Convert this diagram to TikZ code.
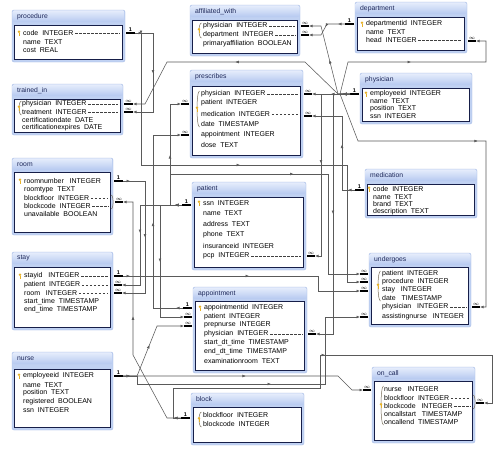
\documentclass[tikz,border=0pt]{standalone}
\usepackage{fontspec}
\setmainfont{Liberation Sans}
\usetikzlibrary{arrows.meta,decorations.markings,fit}
\definecolor{outerfill}{RGB}{192,209,242}
\definecolor{outerdraw}{RGB}{168,188,230}
\definecolor{titletop}{RGB}{230,237,252}
\definecolor{titlebot}{RGB}{182,201,240}
\definecolor{innerdraw}{RGB}{22,30,72}
\definecolor{titletext}{RGB}{30,40,90}
\definecolor{linecol}{RGB}{90,90,90}
\definecolor{keycol}{RGB}{232,178,40}
\definecolor{brcol}{RGB}{120,110,90}
\tikzset{
 outerbox/.style={draw=outerdraw, fill=outerfill, rounded corners=2pt, inner sep=0pt, line width=0.4pt},
 titlebar/.style={top color=titletop, bottom color=titlebot, rounded corners=2pt, inner sep=0pt, draw=none},
 innerbox/.style={draw=innerdraw, fill=white, line width=0.9pt, inner sep=0pt},
 ttl/.style={anchor=west, inner sep=0pt, font=\fontsize{6.8}{7}\selectfont, text=titletext},
 row/.style={anchor=west, inner sep=0pt, font=\fontsize{7}{7}\selectfont},
 dashln/.style={draw=black!75, dash pattern=on 2.5pt off 1.5pt, line width=0.4pt},
 stub/.style={line width=1.1pt, black},
 endlbl/.style={inner sep=0.5pt, font=\fontsize{5.5}{5.5}\selectfont\bfseries, above},
 conn/.style={draw=linecol, line width=0.55pt, -{Latex[length=3.5pt,width=2.8pt]},
   postaction={decorate}, decoration={markings,
     mark=at position 7pt with {\arrow{Latex[length=3.5pt,width=2.8pt]}},
     mark=at position 0.5 with {\arrow{Latex[length=3.5pt,width=2.8pt]}}}},
}
\newcommand{\erbox}[7]{%
 \node[outerbox, fit={(#2,#3) (#4,#5)}] (#1-o) {};
 \node[titlebar, fit={(#2+0.4,#3+0.4) (#4-0.4,#3+12)}] (#1-tb) {};
 \node[ttl] (#1-t) at (#2+5,#3+6.5) {#7};
 \node[innerbox, fit={(#2+2.5,#6) (#4-2.5,#5-2.5)}] (#1) {};
}
\newcommand{\rw}[4]{\node[row] (#1) at (#2,#3) {#4};}
\newcommand{\dl}[2]{\path (#2.east |- #1.east) coordinate (dlend); \draw[dashln] ([xshift=1.5pt]#1.east) -- ([xshift=-2.5pt]dlend);}
\newcommand{\pk}[2]{\fill[keycol] ({#1},{#2-1.3}) circle (1.4pt); \draw[keycol,line width=0.8pt] ({#1},{#2-0.2}) -- ({#1},{#2+2.6});}
\newcommand{\cpk}[3]{\draw[brcol,line width=0.5pt] ({#1+2.5},{#2-3}) .. controls ({#1-0.8},{#2-3}) and ({#1-0.8},{#3+3}) .. ({#1+2.5},{#3+3}); \pk{#1}{(#2+#3)/2}}
\newcommand{\rbr}[3]{\draw[brcol,line width=0.5pt] ({#1},{#2-3}) .. controls ({#1+2.8},{#2-3}) and ({#1+2.8},{#3+3}) .. ({#1},{#3+3});}
\newcommand{\oneend}[4]{\draw[stub] (#1,#3) -- node[endlbl]{1} (#2,#3); \coordinate (#4) at (#2,#3);}
\newcommand{\manyend}[4]{\draw[stub] (#1,#3) -- node[endlbl]{$\infty$} (#2,#3); \coordinate (#4) at (#2,#3);}
\begin{document}
\begin{tikzpicture}[x=1pt,y=-1pt]
\fill[white] (0,0) rectangle (503,450);
\useasboundingbox (0,0) rectangle (503,450);

% ---------- procedure
\erbox{proc}{12}{10}{125}{62}{25}{procedure}
\rw{proc-code}{23}{33}{code\ \ INTEGER}\pk{19}{33}
\rw{proc-name}{23}{42}{name\ \ TEXT}
\rw{proc-cost}{23}{50}{cost\ \ REAL}
\dl{proc-code}{proc}
\oneend{126}{135}{33}{oProc}

% ---------- trained_in
\erbox{trin}{12}{84}{123}{135}{99}{trained\_in}
\rw{trin-phys}{22}{104}{physician\ \ INTEGER}
\rw{trin-treat}{22}{112}{treatment\ \ INTEGER}
\rw{trin-cd}{22}{120}{certificationdate\ \ DATE}
\rw{trin-ce}{22}{128}{certificationexpires\ \ DATE}
\cpk{19}{104}{112}
\dl{trin-phys}{trin}\dl{trin-treat}{trin}
\manyend{124}{133}{104}{mTrPhys}
\manyend{124}{133}{112}{mTrTreat}

% ---------- affiliated_with
\erbox{afw}{190}{5}{300}{56}{20}{affiliated\_with}
\rw{afw-phys}{203}{26}{physician\ \ INTEGER}
\rw{afw-dept}{203}{35}{department\ \ INTEGER}
\rw{afw-pa}{203}{44}{primaryaffiliation\ \ BOOLEAN}
\cpk{199}{26}{35}
\dl{afw-phys}{afw}\dl{afw-dept}{afw}
\manyend{301}{309}{26}{mAfPhys}
\manyend{301}{309}{35}{mAfDept}

% ---------- prescribes
\erbox{presc}{190}{70}{303}{158}{86}{prescribes}
\rw{presc-phys}{201}{94}{physician\ \ INTEGER}
\rw{presc-pat}{201}{103}{patient\ \ INTEGER}
\rw{presc-med}{201}{114}{medication\ \ INTEGER}
\rw{presc-date}{201}{124}{date\ \ TIMESTAMP}
\rw{presc-appt}{201}{135}{appointment\ \ INTEGER}
\rw{presc-dose}{201}{145}{dose\ \ TEXT}
\cpk{197}{94}{124}
\dl{presc-phys}{presc}\dl{presc-med}{presc}
\manyend{304}{312}{94}{mPrPhys}
\manyend{304}{312}{116}{mPrMed}
\manyend{189}{181}{104}{mPrPat}
\manyend{189}{181}{135}{mPrAppt}

% ---------- department
\erbox{dept}{355}{2}{467}{53}{17}{department}
\rw{dept-id}{366}{24}{departmentid\ \ INTEGER}\pk{362}{24}
\rw{dept-name}{366}{32}{name\ \ TEXT}
\rw{dept-head}{366}{40}{head\ \ INTEGER}
\dl{dept-head}{dept}
\oneend{354}{345}{24}{oDept}
\manyend{468}{476}{41}{mDeptHead}

% ---------- physician
\erbox{phys}{360}{73}{472}{124}{88}{physician}
\rw{phys-id}{370}{94}{employeeid\ \ INTEGER}\pk{366}{94}
\rw{phys-name}{370}{101}{name\ \ TEXT}
\rw{phys-pos}{370}{109}{position\ \ TEXT}
\rw{phys-ssn}{370}{116}{ssn\ \ INTEGER}
\oneend{359}{350}{94}{oPhys}

% ---------- room
\erbox{room}{12}{158}{113}{235}{172}{room}
\rw{room-num}{24}{181}{roomnumber\ \ \ INTEGER}\pk{20}{181}
\rw{room-type}{24}{190}{roomtype\ \ TEXT}
\rw{room-bf}{24}{198}{blockfloor\ \ INTEGER}
\rw{room-bc}{24}{206}{blockcode\ \ INTEGER}
\rw{room-un}{24}{214}{unavailable\ \ BOOLEAN}
\dl{room-bf}{room}\dl{room-bc}{room}
\rbr{111}{198}{206}
\oneend{114}{123}{181}{oRoom}
\manyend{115}{123}{202}{mRoomBlk}

% ---------- stay
\erbox{stay}{12}{252}{113}{330}{267}{stay}
\rw{stay-id}{24}{276}{stayid\ \ \ INTEGER}\pk{20}{276}
\rw{stay-pat}{24}{285}{patient\ \ INTEGER}
\rw{stay-room}{24}{293}{room\ \ \ INTEGER}
\rw{stay-st}{24}{302}{start\_time\ \ TIMESTAMP}
\rw{stay-et}{24}{310}{end\_time\ \ TIMESTAMP}
\dl{stay-id}{stay}\dl{stay-pat}{stay}\dl{stay-room}{stay}
\oneend{114}{123}{276}{oStay}
\manyend{114}{122}{285}{mStayPat}
\manyend{114}{122}{293}{mStayRoom}

% ---------- nurse
\erbox{nurse}{12}{352}{113}{430}{369}{nurse}
\rw{nurse-id}{23}{376}{employeeid\ \ INTEGER}\pk{19}{376}
\rw{nurse-name}{23}{385}{name\ \ TEXT}
\rw{nurse-pos}{23}{393}{position\ \ TEXT}
\rw{nurse-reg}{23}{402}{registered\ \ BOOLEAN}
\rw{nurse-ssn}{23}{410}{ssn\ \ INTEGER}
\oneend{114}{123}{376}{oNurse}

% ---------- patient
\erbox{pat}{192}{182}{306}{270}{197}{patient}
\rw{pat-ssn}{203}{203}{ssn\ \ INTEGER}\pk{199}{203}
\rw{pat-name}{203}{213}{name\ \ TEXT}
\rw{pat-addr}{203}{224}{address\ \ TEXT}
\rw{pat-phone}{203}{235}{phone\ \ TEXT}
\rw{pat-ins}{203}{246}{insuranceid\ \ INTEGER}
\rw{pat-pcp}{203}{256}{pcp\ \ INTEGER}
\dl{pat-pcp}{pat}
\oneend{191}{182}{205}{oPat}
\manyend{307}{315}{256}{mPatPcp}

% ---------- medication
\erbox{med}{365}{169}{477}{218}{184}{medication}
\rw{med-code}{373}{189}{code\ \ INTEGER}\pk{369}{189}
\rw{med-name}{373}{197}{name\ \ TEXT}
\rw{med-brand}{373}{204}{brand\ \ TEXT}
\rw{med-desc}{373}{212}{description\ \ TEXT}
\oneend{364}{355}{190}{oMed}

% ---------- undergoes
\erbox{und}{369}{253}{471}{327}{267}{undergoes}
\rw{und-pat}{382}{274}{patient\ \ INTEGER}
\rw{und-proc}{382}{282}{procedure\ \ INTEGER}
\rw{und-stay}{382}{290}{stay\ \ \ INTEGER}
\rw{und-date}{382}{298}{date\ \ \ TIMESTAMP}
\rw{und-phys}{382}{307}{physician\ \ \ INTEGER}
\rw{und-nurse}{382}{317}{assistingnurse\ \ \ INTEGER}
\cpk{378}{274}{298}
\dl{und-phys}{und}
\manyend{368}{360}{274}{mUnPat}
\manyend{368}{360}{282}{mUnProc}
\manyend{368}{360}{291}{mUnStay}
\manyend{368}{360}{317}{mUnNurse}
\manyend{472}{480}{307}{mUnPhys}

% ---------- appointment
\erbox{appt}{193}{287}{307}{373}{301}{appointment}
\rw{appt-id}{204}{308}{appointmentid\ \ INTEGER}\pk{200}{308}
\rw{appt-pat}{204}{317}{patient\ \ INTEGER}
\rw{appt-nurse}{204}{325}{prepnurse\ \ INTEGER}
\rw{appt-phys}{204}{334}{physician\ \ INTEGER}
\rw{appt-st}{204}{343}{start\_dt\_time\ \ TIMESTAMP}
\rw{appt-et}{204}{352}{end\_dt\_time\ \ TIMESTAMP}
\rw{appt-room}{204}{361}{examinationroom\ \ TEXT}
\dl{appt-phys}{appt}
\oneend{192}{183}{308}{oAppt}
\manyend{192}{184}{317}{mApPat}
\manyend{192}{184}{326}{mApNurse}
\manyend{308}{316}{334}{mApPhys}

% ---------- block
\erbox{blk}{191}{393}{304}{445}{407}{block}
\rw{blk-bf}{203}{415}{blockfloor\ \ INTEGER}
\rw{blk-bc}{203}{424}{blockcode\ \ INTEGER}
\cpk{199}{415}{424}
\oneend{190}{181}{418}{oBlock}

% ---------- on_call
\erbox{onc}{372}{367}{475}{443}{381}{on\_call}
\rw{onc-nurse}{384}{389}{nurse\ \ \ INTEGER}
\rw{onc-bf}{384}{398}{blockfloor\ \ INTEGER}
\rw{onc-bc}{384}{406}{blockcode\ \ \ INTEGER}
\rw{onc-st}{384}{414}{oncallstart\ \ \ TIMESTAMP}
\rw{onc-et}{384}{422}{oncallend\ \ TIMESTAMP}
\cpk{381}{389}{422}
\dl{onc-bf}{onc}\dl{onc-bc}{onc}
\rbr{473}{398}{406}
\manyend{371}{363}{390}{mOcNurse}
\manyend{476}{484}{403}{mOcBlk}

% ---------- connectors (from the "1" end to the "many" end)
\draw[conn] (oProc) -- (153,33) -- (153,112) -- (mTrTreat);
\draw[conn] (oProc) -- (141,33) -- (141,165) -- (347,165) -- (347,282) -- (mUnProc);
\draw[conn] (oPhys) -- (338,94) -- (305,62) -- (167,62) -- (145,104) -- (mTrPhys);
\draw[conn] (oPhys) -- (338,94) -- (321,26) -- (mAfPhys);
\draw[conn] (oDept) -- (327,24) -- (321,35) -- (mAfDept);
\draw[conn] (oPhys) -- (340,94) -- (348,62) -- (486,62) -- (486,41) -- (mDeptHead);
\draw[conn] (oPhys) -- (mPrPhys);
\draw[conn] (oPhys) -- (321,94) -- (321,256) -- (mPatPcp);
\draw[conn] (oPhys) -- (333,94) -- (333,334) -- (mApPhys);
\draw[conn] (oPhys) -- (340,94) -- (358,141) -- (486,141) -- (486,307) -- (mUnPhys);
\draw[conn] (oMed) -- (342,190) -- (342,116) -- (mPrMed);
\draw[conn] (oPat) -- (170,205) -- (170,104) -- (mPrPat);
\draw[conn] (oAppt) -- (153,308) -- (153,135) -- (mPrAppt);
\draw[conn] (oPat) -- (140,205) -- (140,285) -- (mStayPat);
\draw[conn] (oRoom) -- (145,181) -- (145,293) -- (mStayRoom);
\draw[conn] (oBlock) -- (167,418) -- (133,355) -- (133,202) -- (mRoomBlk);
\draw[conn] (oPat) -- (160,205) -- (160,317) -- (mApPat);
\draw[conn] (oNurse) -- (137,376) -- (157,326) -- (mApNurse);
\draw[conn] (oPat) -- (170,205) -- (170,174) -- (328,174) -- (328,274) -- (mUnPat);
\draw[conn] (oStay) -- (318,276) -- (318,291) -- (mUnStay);
\draw[conn] (oNurse) -- (137,376) -- (137,384) -- (325,384) -- (325,317) -- (mUnNurse);
\draw[conn] (oNurse) -- (338,376) -- (352,390) -- (mOcNurse);
\draw[conn] (oBlock) -- (173,418) -- (173,388) -- (320,388) -- (320,355) -- (492,355) -- (492,403) -- (mOcBlk);
\end{tikzpicture}
\end{document}
